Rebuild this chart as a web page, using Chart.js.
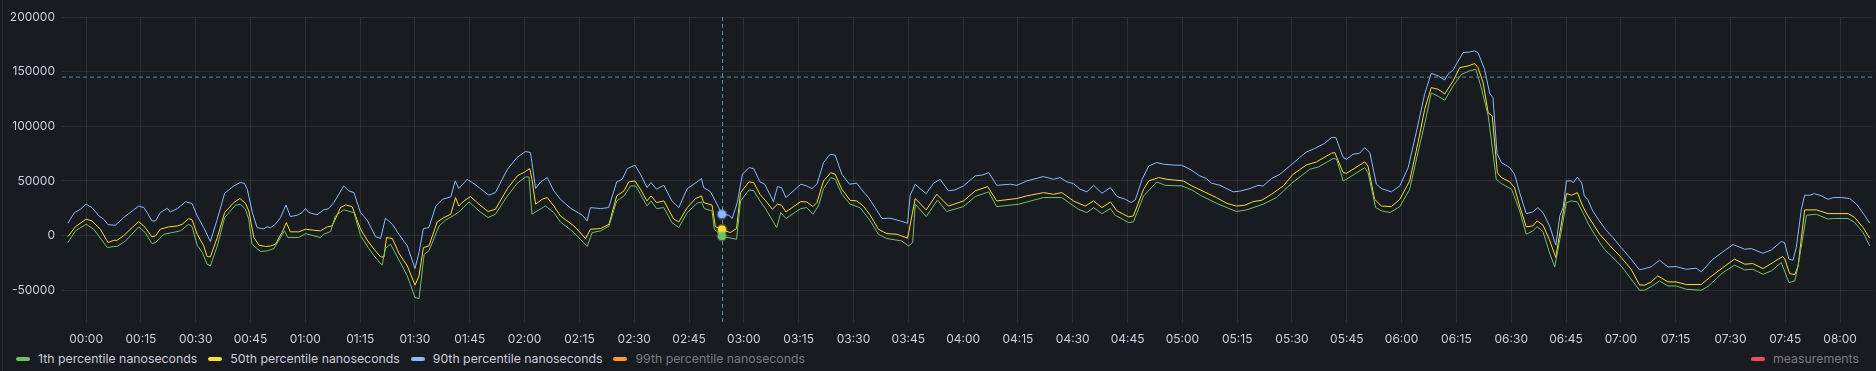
<!DOCTYPE html>
<html>
<head>
<meta charset="utf-8">
<script src="https://cdn.jsdelivr.net/npm/chart.js@4.4.1/dist/chart.umd.min.js"></script>
<style>
  html, body { margin: 0; padding: 0; background: #181b1f; }
  #wrap { position: relative; width: 1876px; height: 371px; overflow: hidden; }
  #edge { position: absolute; left: 2px; top: 0; width: 1px; height: 371px; background: rgba(204,204,220,0.08); }
  canvas { position: absolute; left: 0; top: 0; }
  .legend { position: absolute; top: 351px; font: 12.3px Inter, sans-serif; color: #ccccdc; display: flex; align-items: center; white-space: nowrap; }
  .item { display: flex; align-items: center; margin-right: 11px; }
  .sw { width: 14px; height: 4px; border-radius: 2px; margin-right: 8px; }
  .off { color: rgba(204,204,220,0.55); }
</style>
</head>
<body>
<div id="wrap">
  <div id="edge"></div>
  <canvas id="myChart" width="1876" height="348"></canvas>
  <div class="legend" id="legendLeft" style="left:16px"></div>
  <div class="legend" id="legendRight" style="right:6px"></div>
</div>
<script>
// minutes since 00:00, value in ns
var p1Points = [[-5,-6400],[-2.9,4300],[0,10400],[2.1,5800],[5.8,-11000],[7.6,-10000],[8.5,-10000],[10.8,-4900],[14.4,8000],[16.2,2700],[18,-7300],[19,-6400],[21.3,1200],[23.5,2700],[25.8,4300],[28.1,10400],[29,8200],[30.4,-8800],[31.8,-15500],[33.1,-26200],[34,-27800],[35.9,-9500],[37.9,16500],[40.9,27800],[42.2,28700],[43.6,24100],[44.5,15000],[45.4,-7900],[47.7,-14600],[49.5,-14000],[51.4,-11900],[53.2,-1800],[54.3,4300],[55.2,-1800],[58.2,-1800],[60,1800],[64.1,-1800],[65,1200],[66.9,3700],[68.2,18000],[70.5,23500],[73.3,21000],[75.1,0],[76.9,-9500],[78.8,-18600],[81,-27100],[81.9,-11900],[83.3,-7900],[86,-24700],
  [87.9,-36900],[90,-56700],[91.1,-57600],[92.5,-17100],[93.8,-14000],[96.6,8800],[98.4,14300],[100.7,18600],[102,21600],[104.8,30800],[107.5,22600],[110,16500],[112,19500],[115.3,36300],[118,47900],[120.3,53700],[121.2,53700],[122,19500],[123.5,22600],[125.7,27100],[128,21000],[129.8,12500],[133.5,2700],[137.1,-10000],[138.5,2700],[140.8,4300],[143.1,8800],[145.2,31700],[147.2,36300],[149,45400],[150.4,45400],[151.7,37800],[153.5,27100],[154.6,31700],[156.1,24700],[158.1,25600],[160.3,11900],[162.2,7300],[164.5,21000],[167.2,29600],[168.4,30800],[169.2,24700],[171.3,22600],[171.9,5800],[174,-600],[178,-3400],[179.1,31700],[181.4,41800],[182.7,41000],[184.4,31700],[186,24100],[189,7300],[190.1,21000],[191.5,15600],[195.6,24700],
  [197.2,25600],[198.9,19500],[200.4,27100],[201.8,43000],[203.8,53100],[205,51500],[206.8,37800],[209.1,28700],[211.8,25600],[214.6,13400],[216.8,1200],[219.1,-2700],[223.2,-4900],[225.1,-9500],[226.2,-6400],[226.9,28700],[229.9,17400],[233,32600],[235.5,22000],[240.1,26500],[243.3,35700],[247,40000],[249.2,26500],[255.2,28700],[262,34800],[267,34800],[271.5,24100],[273.9,21000],[275.7,25600],[278,20100],[280.3,24700],[281.6,18600],[285.3,11900],[286.6,12500],[289.4,36300],[293,49100],[295.3,46000],[299.9,45400],[302.6,41800],[304.9,36900],
  [309.3,29600],[314.8,22000],[317.6,23500],[322.1,28700],[325.8,34800],[329.9,47900],[334.9,60700],[337.2,62800],[341.3,70500],[342.2,70000],[344,50000],[344.9,51500],[349.9,62200],[350.8,57600],[352.9,25600],[354.5,22600],[356.8,21000],[359.5,26500],[362.2,42400],[364.9,82000],[366.8,109500],[368.1,130500],[370,127500],[371.8,123800],[374.1,136900],[376.4,147600],[378.6,150700],[380.3,152200],[381.8,135400],[383.7,109500],[385.9,51500],[387.3,47600],[390.1,42400],[392.3,22600],[394.1,1200],[395.9,4300],[397.1,8200],[398.7,3400],[400.4,-14900],[401.9,-28700],[403.3,-3400],[405.1,30200],[406.5,31700],[408.1,30800],[409.6,21000],[411.4,8800],[414.2,-6400],
  [415.5,-12500],[420.1,-27800],[425.1,-50000],[426.5,-50000],[428.3,-46700],[430.6,-41500],[432.9,-46100],[435.1,-46100],[437.9,-49100],[442,-50000],[443.8,-46700],[447.9,-33900],[451.1,-27100],[453.9,-31400],[456.1,-30800],[458.9,-35400],[461.2,-32300],[463.9,-24700],[466,-43000],[467.6,-41500],[468.5,-27800],[470.8,18600],[473.5,19500],[476.7,15000],[478.1,15600],[482.2,15600],[484,11900],[486.3,2700],[488.1,-9500]];

var p50Points = [[-5,-1000],[-2.9,8200],[0,15000],[1.6,13400],[3.9,5800],[6,-6400],[7.6,-4300],[8.5,-4300],[10.3,0],[12.6,7300],[14.4,12800],[16.2,7300],[18,-1200],[19,-300],[20.3,5800],[22.6,8000],[25,8800],[26.3,10400],[28.1,15600],[29,14300],[30.4,1200],[32.2,-9500],[33.1,-19200],[34,-19500],[35.9,-1800],[37.9,21000],[40.4,30200],[42.1,33900],[43.6,29600],[44.5,22600],[45.9,-1800],[47.3,-8800],[49.1,-10000],[50.5,-9500],[51.8,-7900],[53.6,2700],[54.8,11900],[55.9,3400],[58.2,3400],[60,5800],[62.3,4900],[64.1,4300],[66,8000],[67.3,8800],[68.2,15000],[69.6,25600],[71,28000],[72.8,26500],[75.1,5800],[76.9,-4000],[78.8,-12500],[80.6,-19500],[81.5,-19500],[82.2,-1800],[83.8,-2700],[85.6,-16200],
  [87.9,-27800],[90,-45400],[91.1,-36900],[92.3,-11000],[93.8,-9500],[96.1,12500],[97.9,16500],[99.8,19500],[101.1,34800],[102,27000],[103.4,31700],[105.2,35700],[107.5,28700],[110,22000],[112,24100],[115.3,43000],[118,54600],[120,58300],[121.4,61300],[122,51500],[123,28700],[124.8,33200],[126.2,34800],[128,27000],[129.8,18000],[133.5,8800],[136.7,-2700],[138,5800],[140.8,6400],[143.1,10400],[145.2,36300],[147.2,40900],[148.5,49100],[150.2,50000],[151.7,42400],[153.5,31700],[154.6,36300],[156.1,30200],[158.1,31700],[160.8,15000],[162.2,12500],[164.5,25600],[166.8,33900],[168.4,36300],[169,30200],[171.3,27800],[172.2,8200],[174,5500],[176.3,2700],[178,6400],[179.1,39300],[181.4,49100],[182.7,48500],[184.4,37800],[186,31700],[187.8,24100],[189.2,28700],[190.3,27800],[191.5,21600],[195.6,31100],
  [197.2,30800],[198.9,26500],[200,30200],[201.8,50000],[203.8,57600],[205,56100],[206.8,42400],[209.1,32300],[210.9,31700],[212.7,27000],[214.6,18600],[216.8,5800],[219.1,1800],[221.9,1200],[224.8,-2400],[226.9,33900],[229.9,23500],[232.8,37800],[236,27000],[240.1,31700],[243.3,40900],[246.7,44800],[249.2,31700],[254.7,33900],[257.4,36300],[262,39300],[264.7,37800],[267,39300],[270.2,31700],[273.4,27000],[275.7,31700],[278,25600],[280.3,30800],[282.1,22600],[285.3,17100],[286.6,18000],[289.4,42400],[290.8,50000],[293.5,53100],[295.8,51500],[300.3,50000],[302.6,45400],[304.9,41800],
  [309.3,34800],[312.1,29600],[314.8,27000],[317.1,27800],[319.4,31100],[321.7,32300],[324.4,37800],[327.6,45400],[330.3,56100],[334,64700],[336.7,67400],[340.8,75300],[341.7,76000],[344,57600],[344.9,57000],[346.7,60700],[349.9,67400],[350.8,63700],[352.6,33200],[354.5,27000],[357.2,26500],[359.5,33200],[362.2,50000],[364.5,85100],[366.3,115300],[368.1,135400],[370,133900],[371.8,129600],[374.1,141500],[375.9,153700],[378.2,155200],[380,157400],[380.9,153700],[382.3,140000],[383.7,112200],[384.8,109500],[386.2,57600],[387.3,53100],[389.6,49100],[390.9,43900],[392.3,27000],[394.1,8000],[395.9,8800],[397.1,13400],[398.7,9500],[400.4,-3400],[402.2,-20100],[403.3,2700],[405.1,38400],[406.5,36900],[408.1,39300],[409.6,26500],[411,18000],[414.2,1200],
  [416.9,-8800],[420.1,-20100],[422.8,-30800],[425.1,-45100],[426.5,-45400],[428.3,-42400],[430.1,-36900],[432.9,-42400],[435.1,-42400],[437.9,-44800],[442,-44800],[444.3,-38400],[447.9,-29300],[451.1,-21600],[453.9,-26200],[456.1,-25600],[458.9,-30200],[461.6,-24700],[464.2,-19200],[464.8,-21000],[466.2,-34800],[467.6,-35700],[468.5,-27800],[470.3,23500],[473.5,23500],[476.7,20100],[482.2,20100],[484,16500],[486.3,7300],[488.1,-2400]];

var p90Points = [[-5,11300],[-3.2,21000],[-1.6,24000],[0,28700],[1.6,25600],[3.5,18000],[4.8,15000],[6,10000],[8,9500],[10.3,16500],[12.6,22500],[14.4,27000],[15.8,25600],[16.7,21000],[18,13400],[19,13400],[20.3,21000],[22.2,25000],[23,21600],[25,24700],[27.2,31000],[29,29300],[30.4,18000],[32.2,7300],[34,-5500],[35.9,15000],[37.9,38700],[40.4,45400],[42.2,48500],[43.3,47900],[44.1,42400],[45.5,21000],[46.8,7300],[48.6,6100],[49.5,8000],[50.5,7300],[51.8,10400],[53.2,16500],[54.7,28000],[55.9,17400],[57.8,18600],[59.1,21000],[60,24700],[61,21000],[63.2,19000],[65,23500],[66.4,24700],[67.8,30200],[70.5,45400],[71.9,40900],[73.3,39300],[75.1,21000],[76.9,14300],[79.2,-1000],[80.6,-2700],[81.9,15900],[83.8,10400],[85.6,1200],
  [87.9,-9500],[90,-30200],[91.1,-15500],[92.3,6400],[93.8,7300],[95.7,27000],[97.5,33200],[99.8,35400],[101,50000],[102,43000],[104.3,51500],[107,45400],[110.2,36900],[112,39300],[115.3,60700],[117.9,71400],[120.2,76900],[121.6,76000],[122,66800],[123,43000],[124.4,49100],[126.2,53100],[128,40900],[129.8,33200],[132.6,25000],[135.8,18600],[137.1,13400],[138,25600],[140.8,24700],[143,25600],[145.2,49100],[146.7,51500],[148.1,61300],[150.2,64400],[151.7,56100],[153.5,43900],[154.6,48500],[156.1,42400],[158.1,46000],[160.3,31700],[162.2,25600],[164.5,43000],[167.2,49100],[168.4,52200],[169,43900],[170.9,40000],[172.2,31700],[174,19500],[175.9,18600],[176.8,15600],[178.2,30200],[179.6,56100],[181.4,62200],[182.7,61300],[184.4,49100],[185.7,47000],[188.1,31100],[189.2,44800],[190.3,43900],[191.5,34800],[195.6,47000],
  [197.2,45400],[198.6,43000],[200,47000],[201.8,66800],[203.6,74400],[205,73500],[206.8,56100],[208.9,47000],[210.9,47900],[212.3,41800],[214.1,34800],[215.9,25600],[217.8,15600],[220,15900],[222.8,13400],[224.8,11300],[225.5,36900],[226.9,47000],[228.2,43000],[229.9,38400],[231.9,47900],[233.7,51500],[236,40900],[237.8,41800],[240.1,45400],[243.3,54600],[245.4,55500],[247,57600],[249.2,46000],[252.9,47000],[254.7,46000],[257.4,50000],[262,54000],[264.7,51500],[266.5,53100],[268.4,49100],[270.2,47600],[272,42400],[273.9,40000],[275.7,46000],[278,38700],[280.3,43900],[282.1,35700],[284.4,33200],[286,30200],[287.1,32600],[289,51500],[290.8,63700],[293,66800],[294.8,65300],[298,64400],[299.8,64400],[302.1,60700],[304.8,54600],
  [306.6,52200],[308,47900],[310.3,46000],[313.9,40000],[315.7,40600],[318.5,43000],[320.7,46000],[322.1,45400],[324.4,52200],[326.7,56100],[329.4,63700],[332.1,71400],[334,76600],[336.2,79600],[339,84500],[340.8,89700],[342,89700],[344,71400],[344.9,69800],[346.7,74400],[348.5,75300],[349.9,80500],[351.3,76000],[353.1,47000],[354.5,43000],[357.2,40000],[359.5,45400],[361.8,62200],[364,94200],[366.3,129300],[368.1,148500],[370,146100],[371.8,142400],[372.7,147600],[374.1,151600],[376.8,167400],[378.6,168000],[380,169000],[380.9,167400],[382.7,152200],[384.1,130200],[385,126300],[386.1,75300],[387.3,66800],[389.6,62200],[390.9,56100],[392.3,39300],[394.1,20100],[395.9,21600],[397.3,25600],[398.7,21000],[400.5,8800],[402.2,-8800],[403.3,18000],[404.2,25600],[405.1,50000],[406.4,50000],[407,48500],[408.1,53400],[409.3,48000],[410,36300],[410.9,33200],[412.3,22600],[414.1,13400],
  [416,4900],[417.8,-1800],[420.1,-11000],[422.8,-21600],[425.1,-31400],[428.3,-28700],[429.7,-24700],[430.6,-22600],[432.9,-28700],[435.1,-28400],[437.9,-30800],[440.6,-29900],[442,-33200],[445.2,-21600],[447.9,-14900],[450.7,-8200],[453.9,-12500],[455.7,-11900],[458.9,-16200],[461.2,-13100],[463.9,-5500],[464.8,-6400],[466,-21600],[467.1,-22600],[468,-11000],[469.4,24100],[470.3,36900],[471.7,36900],[473,38400],[474.9,36300],[476.7,33200],[478.1,34800],[480.3,34800],[482.6,33900],[484.5,28700],[486.7,18600],[488.1,11300]];

var tickLabels = ['00:00','00:15','00:30','00:45','01:00','01:15','01:30','01:45','02:00','02:15','02:30','02:45','03:00','03:15','03:30','03:45','04:00','04:15','04:30','04:45','05:00','05:15','05:30','05:45','06:00','06:15','06:30','06:45','07:00','07:15','07:30','07:45','08:00'];
var yTicks = [-50000, 0, 50000, 100000, 150000, 200000];
var threshold = 145000;
var cursorMin = 174;   // hover crosshair 02:54
var xMin = -6.6, xMax = 489;

var legendLeft = [
    { label: '1th percentile nanoseconds', color: '#73bf69', hidden: false },
    { label: '50th percentile nanoseconds', color: '#fade2a', hidden: false },
    { label: '90th percentile nanoseconds', color: '#8ab8ff', hidden: false },
    { label: '99th percentile nanoseconds', color: '#ff9830', hidden: true }
];
var legendRight = [{ label: 'measurements', color: '#f2495c', hidden: true }];

function toXY(pts) {
    return pts.map(function(p) { return { x: p[0], y: p[1] }; });
}

function series(label, pts, color) {
    return {
        label: label,
        data: toXY(pts),
        borderColor: color,
        backgroundColor: color,
        borderWidth: 1,
        tension: 0,
        pointRadius: function(ctx) { return ctx.raw && ctx.raw.x === cursorMin ? 4 : 0; },
        pointBorderWidth: 3,
        pointBorderColor: color + '55',
        pointBackgroundColor: color
    };
}

function fillLegend(id, items) {
    var el = document.getElementById(id);
    items.forEach(function(it) {
        el.innerHTML += '<div class="item' + (it.hidden ? ' off' : '') + '"><span class="sw" style="background:' + it.color + '"></span>' + it.label + '</div>';
    });
}
fillLegend('legendLeft', legendLeft);
fillLegend('legendRight', legendRight);

// crosshair (dashed vertical line at hover time)
var crosshair = {
    id: 'crosshair',
    beforeDatasetsDraw: function(chart) {
        var c = chart.ctx, a = chart.chartArea;
        var x = Math.round(chart.scales.x.getPixelForValue(cursorMin)) + 0.5;
        c.save();
        c.strokeStyle = '#5a8ea3';
        c.lineWidth = 1;
        c.setLineDash([4, 3]);
        c.beginPath();
        c.moveTo(x, a.top);
        c.lineTo(x, a.bottom);
        c.stroke();
        c.restore();
    }
};

Chart.defaults.font.family = 'Inter, sans-serif';
Chart.defaults.font.size = 12;

var gridColor = 'rgba(240,250,255,0.09)';

new Chart(document.getElementById('myChart').getContext('2d'), {
    type: 'line',
    data: {
        datasets: [
            {
                label: 'threshold',
                data: [{ x: xMin, y: threshold }, { x: xMax, y: threshold }],
                borderColor: '#5a8ea3',
                borderWidth: 1,
                borderDash: [4, 3],
                pointRadius: 0
            },
            series('1th percentile nanoseconds', p1Points, '#73bf69'),
            series('50th percentile nanoseconds', p50Points, '#fade2a'),
            series('90th percentile nanoseconds', p90Points, '#8ab8ff')
        ]
    },
    options: {
        responsive: false,
        animation: false,
        devicePixelRatio: 1,
        layout: { padding: { top: 17, right: 3, left: 0, bottom: 0 } },
        plugins: { legend: { display: false }, tooltip: { enabled: false } },
        scales: {
            x: {
                type: 'linear',
                min: xMin,
                max: xMax,
                afterBuildTicks: function(s) {
                    s.ticks = tickLabels.map(function(t, i) { return { value: i * 15 }; });
                },
                afterFit: function(s) { s.height = 25; },
                ticks: {
                    color: '#ccccdc',
                    padding: 9,
                    maxRotation: 0,
                    autoSkip: false,
                    callback: function(v, i) { return tickLabels[i]; }
                },
                grid: { color: gridColor, drawTicks: false },
                border: { display: false }
            },
            y: {
                min: -80000,
                max: 200000,
                afterBuildTicks: function(s) {
                    s.ticks = yTicks.map(function(v) { return { value: v }; });
                },
                afterFit: function(s) { s.width = 62; },
                ticks: {
                    color: '#ccccdc',
                    padding: 7,
                    callback: function(v) { return String(v); }
                },
                grid: { color: gridColor, drawTicks: false },
                border: { display: false }
            }
        }
    },
    plugins: [crosshair]
});
</script>
</body>
</html>
